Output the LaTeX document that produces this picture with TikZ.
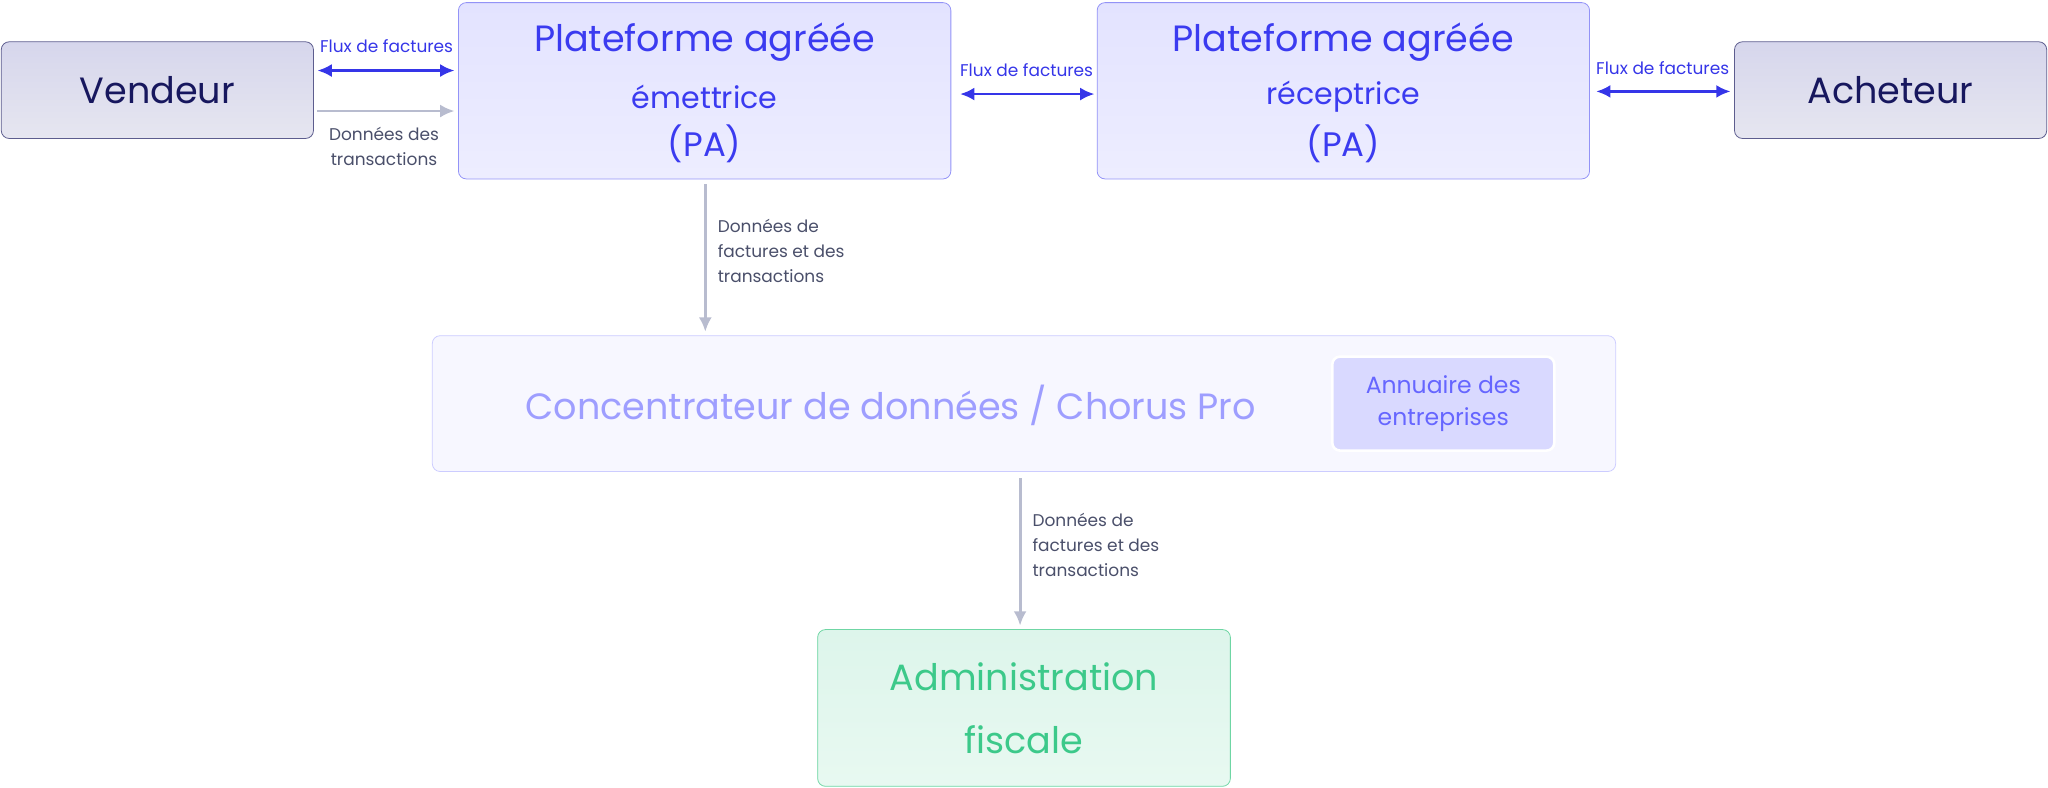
\documentclass[tikz,border=0pt]{standalone}
\usepackage{fontspec}
\setmainfont{Poppins}
\usetikzlibrary{arrows.meta}
\definecolor{navy}{HTML}{17175E}
\definecolor{pablue}{HTML}{3B3BF0}
\definecolor{arrblue}{HTML}{3535E8}
\definecolor{grayarr}{HTML}{B8BCCF}
\definecolor{lbl}{HTML}{4A4F6A}
\definecolor{admtxt}{HTML}{3CC98A}
\definecolor{admfill}{HTML}{DDF5EB}
\definecolor{admfill2}{HTML}{E8F9F1}
\definecolor{admdraw}{HTML}{6FD6A4}
\definecolor{ptop}{HTML}{D6D6EC}
\definecolor{pbot}{HTML}{E6E6F0}
\begin{document}
\begin{tikzpicture}[x=1pt,y=-1pt,
 party/.style={draw=navy!70,rounded corners=6pt,top color=ptop,bottom color=pbot,line width=0.6pt},
 pa/.style={draw=pablue!55,rounded corners=6pt,top color=blue!11,bottom color=blue!7,line width=0.6pt},
 blab/.style={font=\fontsize{13}{15}\selectfont,text=arrblue},
 glab/.style={font=\fontsize{13}{19}\selectfont,text=lbl,align=left},
 patxt/.style={text=pablue},
 barr/.style={{Latex[length=11pt,width=10pt]}-{Latex[length=11pt,width=10pt]},draw=arrblue,line width=2.2pt},
 garr/.style={-{Latex[length=11pt,width=10pt]},draw=grayarr,line width=2.2pt}]
\useasboundingbox (0,0) rectangle (1568,603);
\draw[party] (1,32) rectangle (240,106);
\node (v) at (120.5,69) {\fontsize{28}{32}\selectfont\color{navy}Vendeur};
\draw[party] (1328,32) rectangle (1567,106);
\node (a) at (1447.5,69) {\fontsize{28}{32}\selectfont\color{navy}Acheteur};
\draw[pa] (351,2) rectangle (728,137);
\node[patxt,font=\fontsize{28}{32}\selectfont] (pe) at (539.5,32) {Plateforme agréée};
\node[patxt,font=\fontsize{23}{28}\selectfont] (pe2) at (539.5,74) {émettrice};
\node[patxt,font=\fontsize{26}{30}\selectfont] (pe3) at (539.5,110) {(PA)};
\draw[pa] (840,2) rectangle (1217,137);
\node[patxt,font=\fontsize{28}{32}\selectfont] (pr) at (1028.5,32) {Plateforme agréée};
\node[patxt,font=\fontsize{23}{28}\selectfont] (pr2) at (1028.5,74) {réceptrice};
\node[patxt,font=\fontsize{26}{30}\selectfont] (pr3) at (1028.5,110) {(PA)};
\draw[draw=blue!20,fill=blue!3,rounded corners=6pt,line width=0.6pt] (331,257) rectangle (1237,361);
\node (c) at (682,310) {\fontsize{28}{32}\selectfont\color{blue!38}Concentrateur de données / Chorus Pro};
\draw[draw=white,fill=blue!15,rounded corners=6pt,line width=2pt] (1020,273) rectangle (1190,345);
\node[align=center,text=blue!60,font=\fontsize{18}{25}\selectfont] (ann) at (1105,309) {Annuaire des\\entreprises};
\draw[draw=admdraw,top color=admfill,bottom color=admfill2,rounded corners=6pt,line width=0.6pt] (626,482) rectangle (942,602);
\node[align=center,text=admtxt,font=\fontsize{28}{48}\selectfont] (ad) at (784,542) {Administration\\fiscale};
\coordinate (a1) at (243,54); \coordinate (a2) at (348,54);
\draw[barr] (a1) -- (a2);
\node[blab] (l1) at (296,35) {Flux de factures};
\coordinate (g1) at (243,85); \coordinate (g2) at (348,85);
\draw[garr] (g1) -- (g2);
\node[glab,align=center] (l2) at (294,112) {Données des\\transactions};
\coordinate (b1) at (735,72); \coordinate (b2) at (838,72);
\draw[barr] (b1) -- (b2);
\node[blab] (l3) at (786,54) {Flux de factures};
\coordinate (c1) at (1222,70); \coordinate (c2) at (1325,70);
\draw[barr] (c1) -- (c2);
\node[blab] (l4) at (1273,52) {Flux de factures};
\coordinate (d1) at (540,141); \coordinate (d2) at (540,254);
\draw[garr] (d1) -- (d2);
\node[glab,anchor=west] (l5) at (546,192) {Données de\\factures et des\\transactions};
\coordinate (e1) at (781,366); \coordinate (e2) at (781,479);
\draw[garr] (e1) -- (e2);
\node[glab,anchor=west] (l6) at (787,417) {Données de\\factures et des\\transactions};
\end{tikzpicture}
\end{document}
